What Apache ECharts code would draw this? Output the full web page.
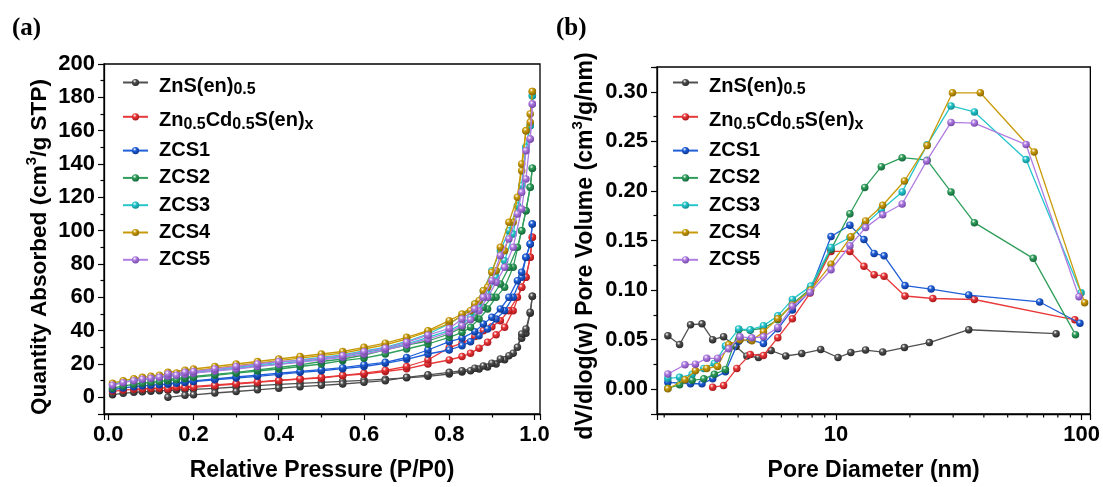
<!DOCTYPE html>
<html>
<head>
<meta charset="utf-8">
<script src="https://cdn.jsdelivr.net/npm/echarts@6/dist/echarts.min.js"></script>
<style>
  html, body { margin: 0; background: #fff; }
  #main { width: 1103px; height: 487px; }
</style>
</head>
<body>
<div id="main"></div>
<script>
// sample names and colours
var sampleNames = ["ZnS(en)0.5", "Zn0.5Cd0.5S(en)x", "ZCS1", "ZCS2", "ZCS3", "ZCS4", "ZCS5"];
var lineColors = ["#505050", "#e8383a", "#1f5fd8", "#2f9e5a", "#25c6cc", "#c99a08", "#b07de2"];
var darkColors = ["#262626", "#a81418", "#0c3590", "#14663a", "#0f8a8f", "#876500", "#7446a8"];

// (a) isotherms: relative pressure of the adsorption / desorption points
var adsP = [0.01, 0.035, 0.06, 0.08, 0.10, 0.12, 0.14, 0.16, 0.18, 0.20, 0.25, 0.30, 0.35, 0.40, 0.45, 0.50,
  0.55, 0.60, 0.65, 0.70, 0.75, 0.80, 0.83, 0.85, 0.87, 0.89, 0.91, 0.93, 0.95, 0.97, 0.98, 0.99, 0.995];
var desP = [0.995, 0.99, 0.98, 0.97, 0.96, 0.94, 0.92, 0.90, 0.88, 0.86, 0.83, 0.80, 0.75, 0.70, 0.65, 0.60,
  0.55, 0.50, 0.45, 0.40, 0.35, 0.30, 0.25, 0.20, 0.18, 0.14];

// quantity absorbed (cm3/g STP)
var adsZnS = [1.6, 2.4, 3.0, 3.3, 3.6, 3.9, 4.2, 4.4, 4.6, 4.8, 5.4, 6.2, 7.0, 7.8, 8.4, 9.0, 9.6, 10.2, 10.9, 11.7,
  12.6, 14.0, 15.2, 16.0, 17.0, 18.2, 20.0, 22.5, 26.5, 35.5, 38.5, 50.5, 60.6];
var desZnS = [60.6, 51, 41, 38, 30, 25, 23, 20.5, 18.8, 17.5, 16.0, 15.0, 13.5, 12.0, 10.0, 9.0, 8.0, 7.2, 6.4, 5.5,
  4.5, 3.5, 2.6, 1.5, 1.2, 0];
var adsZnCdS = [3.6, 4.3, 4.8, 5.0, 5.3, 5.5, 5.8, 6.0, 6.3, 6.6, 7.4, 8.3, 9.3, 10.3, 11.0, 11.5, 13.0, 13.9, 15.5,
  17.1, 20.0, 22.4, 24.5, 26.4, 29.5, 33.0, 37.5, 42.0, 52.0, 66.0, 72.0, 84.0, 96.0];
var desZnCdS = [96, 84, 72, 66, 60, 52, 46, 42.3, 40, 36.5, 32.5, 29.8, 22.4, 18.5, 16.2, 14.5, 13.2, 12.0, 11.0,
  10.0, 9.0, 8.0, 7.0, 6.0, 5.7, 5.0];
var adsZCS1 = [4.6, 5.6, 6.4, 6.9, 7.3, 7.6, 8.0, 8.4, 8.9, 9.5, 10.5, 11.6, 12.6, 13.8, 15.0, 15.9, 17.2, 18.5, 20.4,
  22.8, 26.0, 28.4, 31.0, 33.4, 37.0, 41.0, 47.0, 52.0, 60.0, 72.0, 84.0, 92.0, 104.0];
var desZCS1 = [104, 92, 84, 75, 70, 60, 53, 48, 44, 39.4, 35.5, 33.4, 28.4, 23.9, 21.0, 19.5, 17.8, 16.6, 15.5, 14.5,
  13.3, 12.2, 11.0, 9.8, 9.2, 8.2];
var adsZCS2 = [5.5, 6.8, 7.8, 8.5, 9.0, 9.5, 10.0, 10.6, 11.2, 12.0, 13.2, 14.5, 15.8, 17.0, 18.5, 20.0, 22.0, 23.5,
  26.0, 29.0, 32.0, 36.0, 39.0, 42.0, 47.0, 53.0, 60.0, 66.0, 78.0, 100.0, 112.0, 126.0, 137.5];
var desZCS2 = [137.5, 126, 112, 100, 90, 78, 68, 60, 54, 48, 42, 38, 33.8, 31.4, 28.5, 25.4, 23.0, 21.5, 19.5, 17.9,
  16.5, 15.0, 13.8, 12.5, 12.0, 10.8];
var adsZCS3 = [7.8, 9.2, 10.3, 11.0, 11.6, 12.2, 12.8, 13.4, 14.0, 14.8, 16.0, 17.3, 18.8, 20.0, 21.5, 23.0, 24.5,
  27.0, 29.0, 32.0, 36.0, 40.0, 44.0, 48.0, 54.0, 62.0, 72.0, 82.0, 98.0, 127.0, 150.0, 163.0, 181.0];
var desZCS3 = [181, 163, 150, 127, 115, 100, 88, 76, 64, 56, 49, 44, 38, 33.5, 30.0, 27.8, 25.5, 24.0, 22.5, 21.0,
  19.5, 18.0, 16.8, 15.5, 15.0, 13.8];
var adsZCS4 = [8.5, 10.0, 11.2, 12.0, 12.6, 13.3, 14.0, 14.6, 15.3, 16.0, 17.5, 19.0, 20.5, 22.0, 23.5, 25.0, 26.5,
  29.0, 31.5, 35.0, 39.4, 44.3, 49.0, 52.0, 58.0, 66.0, 76.0, 88.0, 105.0, 136.0, 160.0, 165.0, 183.5];
var desZCS4 = [183.5, 170, 160, 140, 120, 105, 90, 75, 64, 56, 50, 46, 40, 36, 32.5, 30.0, 27.5, 26.0, 24.5, 23.0,
  21.5, 20.0, 18.5, 17.0, 16.3, 15.0];
var adsZCS5 = [7.2, 8.8, 10.0, 10.8, 11.4, 12.0, 12.6, 13.2, 13.8, 14.5, 15.8, 17.0, 18.5, 19.8, 21.0, 22.5, 24.0,
  26.0, 28.5, 31.5, 35.0, 39.0, 43.0, 46.5, 52.0, 60.0, 69.0, 78.0, 90.0, 113.0, 131.0, 155.0, 176.0];
var desZCS5 = [176, 155, 148, 123, 110, 95, 85, 70, 60, 53, 47, 41.3, 37.3, 33, 29.5, 27.4, 25.0, 23.5, 22.0, 21.5,
  20.0, 18.5, 17.0, 15.5, 15.0, 14.0];

// (b) pore size distribution: [pore diameter (nm), dV/dlog(w)]
var psdZnS = [[2.07, 0.054], [2.31, 0.045], [2.56, 0.065], [2.85, 0.066], [3.15, 0.050], [3.49, 0.053], [3.92, 0.043],
  [4.34, 0.0335], [4.84, 0.032], [5.45, 0.039], [6.25, 0.0335], [7.26, 0.036], [8.67, 0.040], [10.2, 0.032],
  [11.5, 0.037], [13.2, 0.0395], [15.5, 0.0375], [19.0, 0.042], [24.0, 0.047], [34.7, 0.060], [78.7, 0.056]];
var psdZnCdS = [[3.15, 0.002], [3.49, 0.0037], [3.95, 0.021], [4.48, 0.035], [5.07, 0.034], [5.80, 0.052],
  [6.65, 0.071], [7.85, 0.097], [9.55, 0.139], [11.4, 0.139], [13.0, 0.124], [14.3, 0.1155], [15.7, 0.114],
  [19.1, 0.094], [24.8, 0.0915], [36.6, 0.0905], [93.8, 0.070]];
var psdZCS1 = [[2.07, 0.007], [2.56, 0.0055], [2.85, 0.0055], [3.15, 0.0105], [3.55, 0.0175], [4.02, 0.0485],
  [4.48, 0.050], [5.07, 0.046], [5.80, 0.061], [6.65, 0.080], [7.85, 0.099], [9.55, 0.154], [11.4, 0.1655],
  [13.0, 0.151], [14.3, 0.137], [15.7, 0.1345], [19.1, 0.1045], [24.4, 0.101], [34.7, 0.095], [67.5, 0.088],
  [98.4, 0.0665]];
var psdZCS2 = [[2.07, 0.001], [2.31, 0.0045], [2.6, 0.009], [2.9, 0.0105], [3.2, 0.015], [3.55, 0.02], [4.02, 0.060],
  [4.48, 0.0595], [5.07, 0.0615], [5.80, 0.070], [6.65, 0.086], [7.85, 0.101], [9.55, 0.141], [11.4, 0.177],
  [13.1, 0.2035], [15.3, 0.2245], [18.6, 0.2335], [23.5, 0.231], [29.4, 0.199], [36.6, 0.168], [63.5, 0.132],
  [94.4, 0.055]];
var psdZCS3 = [[2.07, 0.011], [2.31, 0.012], [2.6, 0.015], [2.9, 0.021], [3.2, 0.026], [3.55, 0.0435], [4.02, 0.0607],
  [4.48, 0.060], [5.07, 0.064], [5.80, 0.074], [6.65, 0.0906], [7.9, 0.104], [9.55, 0.143], [11.4, 0.153],
  [13.1, 0.166], [15.3, 0.181], [18.6, 0.199], [23.5, 0.2465], [29.4, 0.2857], [36.6, 0.2797], [59.4, 0.2316],
  [99.5, 0.0972]];
var psdZCS4 = [[2.07, 0.0005], [2.43, 0.0095], [2.68, 0.0186], [2.98, 0.021], [3.30, 0.023], [3.66, 0.045],
  [4.07, 0.050], [4.55, 0.049], [5.07, 0.058], [5.80, 0.071], [6.65, 0.085], [7.9, 0.100], [9.55, 0.126],
  [11.5, 0.1537], [13.2, 0.1696], [15.5, 0.1855], [19.0, 0.210], [23.5, 0.2459], [29.8, 0.299], [38.7, 0.299],
  [64.1, 0.2393], [102.8, 0.0873]];
var psdZCS5 = [[2.07, 0.0153], [2.43, 0.0246], [2.68, 0.0253], [2.98, 0.0312], [3.30, 0.0312], [3.66, 0.0408],
  [4.07, 0.0528], [4.55, 0.0518], [5.07, 0.0528], [5.80, 0.0623], [6.65, 0.0836], [7.85, 0.0976], [9.55, 0.1205],
  [11.4, 0.1447], [13.2, 0.163], [15.5, 0.176], [18.6, 0.1868], [23.4, 0.2303], [29.4, 0.2691], [36.6, 0.2684],
  [59.4, 0.2468], [97.5, 0.0933]];

// minor ticks of the log axis in (b)
var logMinorTicks = [2, 3, 4, 5, 6, 7, 8, 9, 20, 30, 40, 50, 60, 70, 80, 90];

var adsList = [adsZnS, adsZnCdS, adsZCS1, adsZCS2, adsZCS3, adsZCS4, adsZCS5];
var desList = [desZnS, desZnCdS, desZCS1, desZCS2, desZCS3, desZCS4, desZCS5];
var psdList = [psdZnS, psdZnCdS, psdZCS1, psdZCS2, psdZCS3, psdZCS4, psdZCS5];

var FONT = "Liberation Sans";
var PSD_YMIN = -0.025;

// glossy ball look of the markers
function ball(i) {
  return {
    type: "radial", x: 0.38, y: 0.32, r: 0.7,
    colorStops: [
      { offset: 0, color: "#ffffff" },
      { offset: 0.35, color: lineColors[i] },
      { offset: 1, color: darkColors[i] }
    ]
  };
}

function zip(xs, ys) {
  return xs.map(function (x, k) { return [x, ys[k]]; });
}

// legend labels with subscripts
var legendText = {
  "ZnS(en)0.5": "{g| }{mm|ZnS(en)}{s|0.5}",
  "Zn0.5Cd0.5S(en)x": "{g| }{mm|Zn}{s|0.5}{mm|Cd}{s|0.5}{mm|S(en)}{s|x}"
};

function legendFor(left) {
  var bold = { fontFamily: FONT, fontWeight: "bold", color: "#000", verticalAlign: "top" };
  return {
    left: left,
    top: 72,
    orient: "vertical",
    padding: 0,
    itemGap: 7.3,
    itemWidth: 25,
    itemHeight: 9,
    selectedMode: false,
    data: sampleNames,
    formatter: function (name) {
      return legendText[name] || "{g| }{m|" + name + "}";
    },
    textStyle: {
      rich: {
        g: { width: 6, fontSize: 10 },
        m: Object.assign({ fontSize: 20, lineHeight: 20 }, bold),
        mm: Object.assign({ fontSize: 20, lineHeight: 21, padding: [4, 0, 0, 0] }, bold),
        s: Object.assign({ fontSize: 16, lineHeight: 16, padding: [10, 0, 1, 0] }, bold)
      }
    }
  };
}

function nameRich(size) {
  return {
    t: { fontFamily: FONT, fontWeight: "bold", fontSize: size, color: "#000", lineHeight: 27, verticalAlign: "bottom" },
    sup: { fontFamily: FONT, fontWeight: "bold", fontSize: 15, color: "#000", lineHeight: 16, verticalAlign: "top" }
  };
}
var labelStyle = { fontFamily: FONT, fontWeight: "bold", fontSize: 22, color: "#000" };
var axisLineStyle = { onZero: false, lineStyle: { color: "#000", width: 1.3 } };
var majorTick = { length: 6, lineStyle: { color: "#000", width: 1.2 } };
var minorTick = { show: true, splitNumber: 2, length: 3.5, lineStyle: { color: "#000", width: 1.2 } };

var series = [];
sampleNames.forEach(function (name, i) {
  var common = {
    type: "line",
    name: name,
    symbol: "circle",
    symbolSize: 7.5,
    lineStyle: { color: lineColors[i], width: 1.3 },
    itemStyle: { color: ball(i), borderWidth: 0 },
    z: 2 + i
  };
  series.push(Object.assign({}, common, { xAxisIndex: 0, yAxisIndex: 0, data: zip(adsP, adsList[i]) }));
  series.push(Object.assign({}, common, { xAxisIndex: 0, yAxisIndex: 0, data: zip(desP, desList[i]) }));
  series.push(Object.assign({}, common, { xAxisIndex: 1, yAxisIndex: 1, data: psdList[i] }));
});

// short outward ticks at 2..9 and 20..90 on the log axis
series.push({
  type: "custom",
  xAxisIndex: 1,
  yAxisIndex: 1,
  silent: true,
  clip: false,
  data: logMinorTicks.map(function (v) { return [v, PSD_YMIN]; }),
  renderItem: function (params, api) {
    var p = api.coord([api.value(0), api.value(1)]);
    return {
      type: "line",
      shape: { x1: p[0], y1: p[1], x2: p[0], y2: p[1] + 3.5 },
      style: { stroke: "#000", lineWidth: 1.2 }
    };
  }
});

var chart = echarts.init(document.getElementById("main"));

var option = {
  animation: false,
  backgroundColor: "#fff",
  title: [
    { text: "(a)", left: 7, top: 11, textStyle: { fontFamily: "Liberation Serif", fontWeight: "bold", fontSize: 25, color: "#000" } },
    { text: "(b)", left: 551, top: 11, textStyle: { fontFamily: "Liberation Serif", fontWeight: "bold", fontSize: 25, color: "#000" } }
  ],
  legend: [legendFor(122), legendFor(672)],
  grid: [
    { left: 104, right: 563, top: 64, bottom: 70, show: true, borderColor: "#000", borderWidth: 1.3 },
    { left: 657, right: 11, top: 67, bottom: 69, show: true, borderColor: "#000", borderWidth: 1.3 }
  ],
  xAxis: [
    {
      gridIndex: 0,
      type: "value",
      min: -0.01,
      max: 1.013,
      splitNumber: 5,
      name: "{t|Relative Pressure (P/P0)}",
      nameLocation: "middle",
      nameGap: 41,
      nameTextStyle: { rich: nameRich(23) },
      axisLine: axisLineStyle,
      axisTick: majorTick,
      minorTick: minorTick,
      splitLine: { show: false },
      axisLabel: Object.assign({
        margin: 10,
        formatter: function (v) {
          return Math.abs(v * 5 - Math.round(v * 5)) < 1e-6 && v >= 0 ? v.toFixed(1) : "";
        }
      }, labelStyle)
    },
    {
      gridIndex: 1,
      type: "log",
      min: 1.87,
      max: 108.5,
      name: "{t|Pore Diameter (nm)}",
      nameLocation: "middle",
      nameGap: 41,
      nameTextStyle: { rich: nameRich(23) },
      axisLine: axisLineStyle,
      axisTick: majorTick,
      splitLine: { show: false },
      axisLabel: Object.assign({
        margin: 10,
        formatter: function (v) {
          var e = Math.log10(v);
          return Math.abs(e - Math.round(e)) < 1e-6 ? String(Math.round(v)) : "";
        }
      }, labelStyle)
    }
  ],
  yAxis: [
    {
      gridIndex: 0,
      type: "value",
      min: -10,
      max: 200,
      splitNumber: 10,
      name: "{t|Quantity Absorbed (cm}{sup|3}{t|/g STP)}",
      nameLocation: "middle",
      nameGap: 53,
      nameTextStyle: { rich: nameRich(22.6), padding: [0, 16, 0, 0] },
      axisLine: axisLineStyle,
      axisTick: majorTick,
      minorTick: minorTick,
      splitLine: { show: false },
      axisLabel: Object.assign({
        margin: 9,
        formatter: function (v) { return v >= 0 && v % 20 === 0 ? String(v) : ""; }
      }, labelStyle)
    },
    {
      gridIndex: 1,
      type: "value",
      min: PSD_YMIN,
      max: 0.325,
      splitNumber: 7,
      name: "{t|dV/dlog(w) Pore Volume (cm}{sup|3}{t|/g/nm)}",
      nameLocation: "middle",
      nameGap: 60,
      nameTextStyle: { rich: nameRich(23), padding: [0, 11, 0, 0] },
      axisLine: axisLineStyle,
      axisTick: majorTick,
      minorTick: minorTick,
      splitLine: { show: false },
      axisLabel: Object.assign({
        margin: 9,
        formatter: function (v) {
          var k = v / 0.05;
          return v > -0.001 && Math.abs(k - Math.round(k)) < 1e-6 ? Math.abs(v).toFixed(2) : "";
        }
      }, labelStyle)
    }
  ],
  series: series
};

chart.setOption(option);
</script>
</body>
</html>
